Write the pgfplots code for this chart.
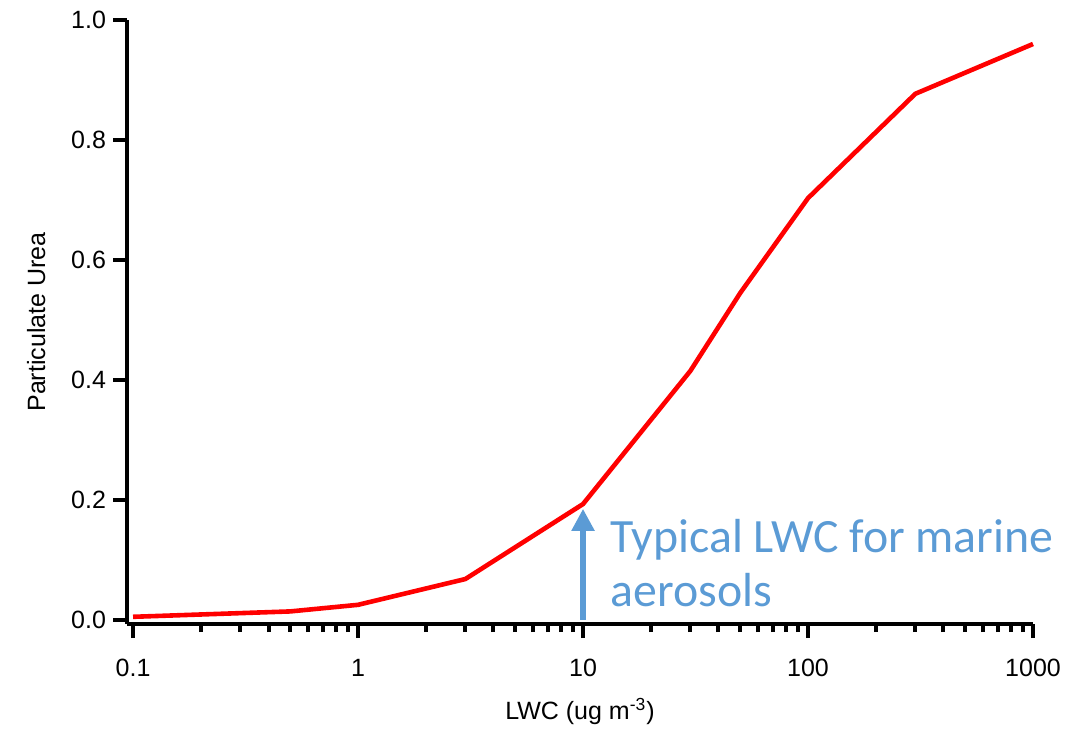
\documentclass[border=0pt]{standalone}
\usepackage{fontspec}
\setmainfont{Liberation Sans}
\newfontfamily\calib{Carlito}
\usepackage{pgfplots}
\usetikzlibrary{arrows.meta}
\pgfplotsset{compat=1.18}
\definecolor{annblue}{HTML}{5B9BD5}
\begin{document}
\begin{tikzpicture}
\useasboundingbox (-63.5pt,-52.5pt) rectangle (473.5pt,312pt);
\begin{axis}[
  at={(0,0)}, anchor=south west,
  scale only axis,
  width=453pt, height=302pt,
  xmode=log, log basis x=10,
  xmin=0.094, xmax=1000,
  ymin=-0.007, ymax=1.0,
  axis x line=bottom, axis y line=left,
  axis line style={line width=2.2pt, -},
  xtick={0.1,1,10,100,1000},
  xticklabels={0.1,1,10,100,1000},
  minor xtick={0.2,0.3,0.4,0.5,0.6,0.7,0.8,0.9,2,3,4,5,6,7,8,9,20,30,40,50,60,70,80,90,200,300,400,500,600,700,800,900},
  ytick={0,0.2,0.4,0.6,0.8,1.0},
  yticklabel style={/pgf/number format/.cd, fixed, fixed zerofill, precision=1},
  tick align=outside,
  major tick length=7pt, minor tick length=4pt,
  every tick/.style={line width=2pt, black},
  /pgf/number format/assume math mode=true,
  tick label style={font=\fontsize{12.5}{15}\selectfont},
  xticklabel style={yshift=-7pt},
  xlabel={LWC (ug m\textsuperscript{-3})},
  ylabel={Particulate Urea},
  label style={font=\fontsize{12.5}{15}\selectfont},
  xlabel style={yshift=-4pt},
  ylabel style={yshift=6pt},
  clip=false,
]
\addplot[color=red, line width=2.3pt, line join=round] coordinates {
  (0.1,0.005) (0.5,0.014) (1,0.025) (3,0.068) (10,0.193)
  (30,0.415) (50,0.545) (100,0.703) (300,0.877) (1000,0.96)
};
\draw[annblue, line width=2.6pt, -{Triangle[length=11pt,width=11pt]}] (axis cs:10,0) -- (axis cs:10,0.185);
\node[annblue, anchor=base west, inner sep=0pt, font=\calib\fontsize{23.9}{27}\selectfont] at (axis cs:13.2,0.112) {Typical LWC for marine};
\node[annblue, anchor=base west, inner sep=0pt, font=\calib\fontsize{23.9}{27}\selectfont] at (axis cs:13.2,0.022) {aerosols};
\end{axis}
\end{tikzpicture}
\end{document}
